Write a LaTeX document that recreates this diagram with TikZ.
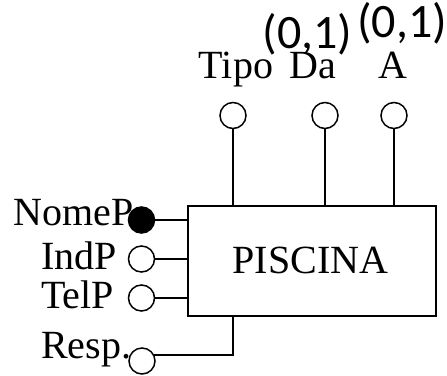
\documentclass[tikz,border=0pt]{standalone}
\usepackage{fontspec}
\setmainfont{Liberation Serif}
\newfontfamily\cardfont{Carlito}
\begin{document}
\begin{tikzpicture}[x=1pt,y=-1pt,
  lbl/.style={inner sep=0pt,font=\fontsize{40}{48}\selectfont},
  card/.style={inner sep=0pt,font=\cardfont\fontsize{48}{56}\selectfont},
  attr/.style={circle,draw,line width=1.5pt,minimum size=26pt,inner sep=0pt},
  keyattr/.style={attr,fill=black},
  conn/.style={line width=1.6pt},
  entity/.style={draw,line width=2pt,minimum width=247.5pt,minimum height=110pt,inner sep=0pt}]
\useasboundingbox (0,0) rectangle (447,375);
% entity
\node[entity] (box) at (311.75,261) {};
\node[lbl,anchor=base] (ent) at (310.5,273) {PISCINA};
% top attributes
\node[attr] (tipo) at (233,115.5) {};
\node[attr] (da) at (325,115.5) {};
\node[attr] (a) at (394,115.5) {};
\node[lbl,anchor=base] (ltipo) at (236,78) {Tipo};
\node[lbl,anchor=base] (lda) at (312.5,78) {Da};
\node[lbl,anchor=base] (la) at (393,78) {A};
\node[card,anchor=base] (cda) at (307.5,48) {(0,1)};
\node[card,anchor=base] (ca) at (402,37) {(0,1)};
% left attributes
\node[keyattr] (nome) at (141.5,220) {};
\node[attr] (ind) at (141.5,259) {};
\node[attr] (tel) at (141.5,298) {};
\node[attr] (resp) at (142,361) {};
\node[lbl,anchor=base east] (lnome) at (134,225) {NomeP};
\node[lbl,anchor=base west] (lind) at (41,269) {IndP};
\node[lbl,anchor=base west] (ltel) at (41,308) {TelP};
\node[lbl,anchor=base west] (lresp) at (41,358) {Resp.};
% connectors
\draw[conn] (tipo.south) -- (tipo.south |- box.north);
\draw[conn] (da.south) -- (da.south |- box.north);
\draw[conn] (a.south) -- (a.south |- box.north);
\draw[conn] (nome.east) -- (nome.east -| box.west);
\draw[conn] (ind.east) -- (ind.east -| box.west);
\draw[conn] (tel.east) -- (tel.east -| box.west);
\coordinate (rb) at ([xshift=46pt]box.south west);
\draw[conn] (resp.27) -| (rb);
\end{tikzpicture}
\end{document}
